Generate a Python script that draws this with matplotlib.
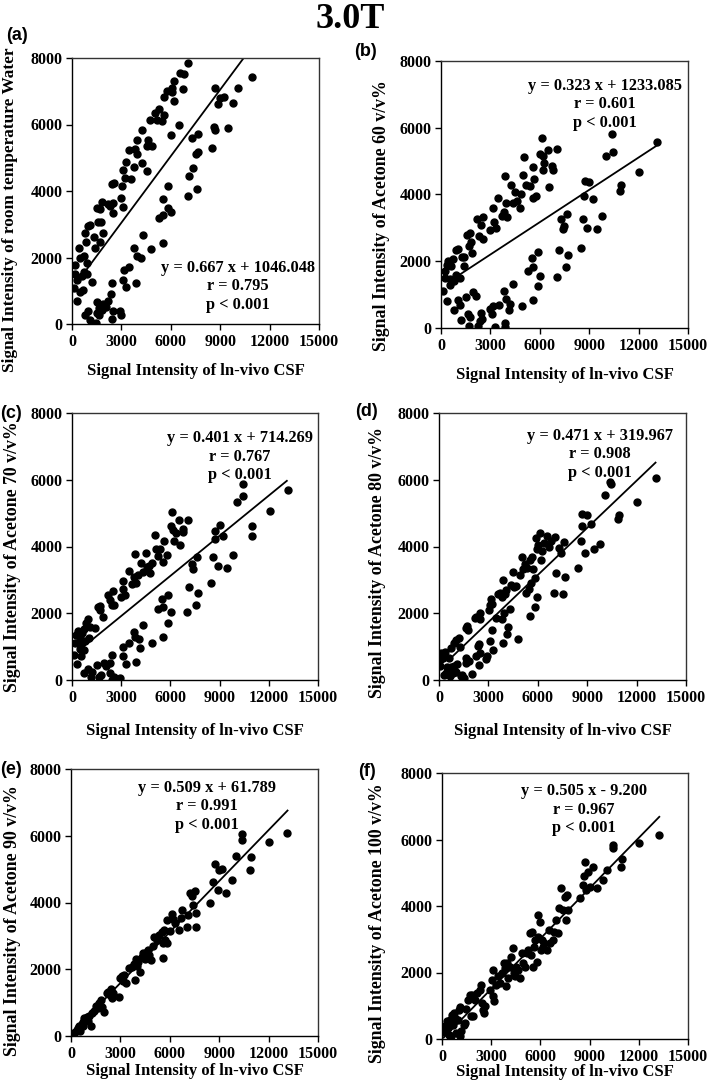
import matplotlib
matplotlib.use("Agg")
import matplotlib.pyplot as plt
import numpy as np

# ---------------- data ----------------
a_x = [121,180,200,320,320,400,500,650,590,730,490,730,770,850,930,930,950,1090,1210,1320,1400,1500,1700,1600,1760,1700,1860,1840,2170,2310,2470,2510,2430,2570,2950,3120,3060,3120,3220,3280,3580,3480,3790,3830,3930,3970,4270,4270,4530,4600,4530,4880,4740,5040,5180,5300,5450,5610,5590,5750,6010,6050,6190,6190,6090,6520,6560,6720,6820,7060,
       1480,790,970,1090,1500,1640,1640,1800,1500,1900,2070,2210,2370,2430,2470,2410,2910,2950,3080,3160,3280,3480,3890,3790,3930,4170,4310,4820,5260,5510,5550,5550,5810,5850,5990,7020,7120,7270,7370,7510,7570,7630,7670,8490,8620,8680,8680,8890,8990,9250,9450,9760,10060,10910]
a_y = [1080,1510,1780,680,1330,2280,960,1030,1430,1550,1980,2050,2750,2470,1500,1830,2960,2980,1250,2610,2280,3480,3450,3070,3080,2480,2750,3660,3610,3550,3650,3330,4200,4250,3800,3510,4160,4630,4380,4860,4350,5240,4710,5260,5110,5520,5830,4850,4610,5530,5360,5350,6150,6350,6130,6460,6100,6290,6830,7010,5680,7110,7300,6700,6980,5980,7550,7060,7510,7860,
       30,280,380,130,650,480,280,430,330,610,520,680,900,1230,400,160,380,280,1310,1630,1100,1700,1230,2280,2050,1980,2680,2260,3180,3760,2450,3280,4160,3480,3360,3850,4450,5600,4700,5100,4050,5700,5180,5300,5930,5830,7100,6630,6800,6830,5880,6660,7100,7430]

b_x = [120,220,260,360,420,360,525,565,625,730,810,890,1010,930,1170,1270,1410,1370,1570,1680,1740,1840,1880,2180,2280,2440,2540,2580,2990,3150,3190,3310,3490,3700,3800,3900,3960,4000,4260,4360,4520,4600,4770,4850,5010,5070,5170,5410,5570,5650,5610,5770,6020,6120,6180,6220,6280,6520,6580,6720,6820,7070,
       810,1030,1170,1210,1530,1620,1680,1780,1940,2100,2220,2380,2420,2480,2990,3090,3150,3250,3530,3840,3900,3940,3900,4140,4200,4360,4910,5270,5570,5550,5610,5880,5880,6020,7030,7190,7290,7390,7490,7590,7670,7690,8480,8640,8700,8740,8880,9000,9250,9450,9790,10050,10400,10420,10900,10960,12030,13140]
b_y = [1120,1500,1700,1900,2000,820,1300,1470,1850,2070,1400,2330,2370,1600,1500,2130,1870,2120,2800,2470,2850,2570,2250,3270,2750,3100,3320,2670,2950,3590,3180,3000,3910,3370,3480,4560,3740,3320,4290,3740,4060,3810,3610,4000,4570,5110,4290,4240,4810,4460,3910,3960,5220,5690,4740,5150,4950,5340,4210,4860,4720,5360,
       550,830,700,230,920,420,70,320,1080,950,50,220,450,280,570,420,670,20,680,1120,150,880,20,550,720,1320,670,1700,850,2100,1820,2270,1270,1550,1540,2350,3280,2970,3070,1820,3420,2200,2400,3280,3960,4390,3000,4370,3860,2970,3350,5160,5810,5270,4090,4290,4670,5560]

c_x = [100,200,260,345,300,470,510,590,570,630,710,750,810,870,950,1010,1110,1380,1560,1680,1720,1860,2170,2290,2490,2430,2570,2990,3100,3140,3240,3450,3650,3810,3850,3910,4010,4220,4320,4500,4560,4700,4760,4860,5070,5110,5230,5370,5570,5640,5780,6040,6120,6180,6220,6320,6590,6530,6790,6750,7090,
       710,950,1160,1220,1520,1620,1780,1930,2090,2330,2330,2430,2430,2590,2940,3080,3100,3300,3490,3750,3910,3850,4110,4160,4320,4860,5270,5470,5530,5570,5840,5840,6020,6990,7160,7300,7400,7560,7640,7660,8470,8610,8720,8720,8920,9020,9220,9470,9790,10070,10400,10440,10950,10990,12060,13180]
c_y = [750,1120,1350,1480,470,930,1250,1100,720,1400,1520,900,1180,1700,1820,1250,1600,1570,2180,2220,2100,1900,2550,2400,2670,2250,2240,2500,2980,2720,2550,3280,2880,3100,3780,2900,3150,3520,3250,3800,3400,3420,3200,3520,4350,3930,3730,3920,3550,4150,3750,4620,5020,4500,4150,4400,4050,4800,4420,4530,4800,
       220,320,80,250,450,80,150,500,420,520,200,750,0,100,70,720,1000,480,1120,1450,550,1300,1220,970,1650,1120,2130,2420,1300,2200,2550,1700,2050,2050,2780,3480,3320,2250,3700,2620,2900,3700,4470,4230,3420,4630,4300,3350,3750,5320,5870,5520,4320,4600,5070,5700]

d_x = [40,80,140,240,350,300,450,510,610,650,710,750,850,890,910,1010,1050,1090,1220,1260,1320,1420,1500,1620,1620,1700,1760,1660,1800,2030,2170,2230,2270,2370,2430,2470,2430,2470,2510,2880,2940,3040,3080,3080,3140,3240,3240,3280,3490,3590,3730,3850,3850,3890,3930,3890,3990,4050,4140,4160,4340,4400,4500,4540,4700,4800,4910,5030,5110,5210,5270,5370,5470,5510,5550,5570,5650,5720,5820,5820,5920,5960,5980,6020,6120,6180,6280,6380,6530,6670,6810,6970,7070,7130,7300,7400,7540,7600,7640,8450,8610,8660,8700,8860,8960,9260,9420,9770,10070,10380,10420,10890,10930,12040,13160]
d_y = [420,600,800,670,830,150,200,400,650,120,970,380,200,1100,420,1200,250,470,1250,1000,120,150,50,500,1550,1630,1500,670,570,180,1850,1900,720,1020,1080,1820,450,800,2000,620,720,2100,1170,2250,2420,1500,2270,900,1850,2570,2600,2480,1820,1100,2000,3000,2570,2700,1370,1600,2120,2850,3250,2800,2820,1220,3150,3700,3330,3480,2600,3350,2720,3600,1920,2920,3700,3320,3050,2200,4250,3920,2500,4050,4400,3600,3880,4100,4300,4000,4150,2600,4280,3220,3970,3800,2570,4120,3080,3350,4150,4970,4600,3800,4930,4670,3920,4080,5550,5930,5870,4820,4950,5320,6050]

e_x = [100,180,240,340,445,505,545,650,710,750,790,850,950,1010,1110,1190,1250,1415,1515,1620,1720,1820,1860,2020,2160,2260,2370,2430,2470,2570,2930,2970,3070,3170,3240,3340,3540,3680,3840,3880,3940,3980,4080,4190,4290,4390,4490,4590,4690,4750,4830,4990,5060,5200,5360,5500,5560,5600,5660,5700,5800,5840,6010,6150,6210,6310,6570,6670,6770,7020,7120,7220,7320,7420,7520,7580,7620,8430,8630,8740,8900,8980,9200,9440,9790,10050,10390,10410,10920,10900,12030,13140]
e_y = [50,80,130,180,230,300,150,360,430,300,550,480,580,450,600,300,700,750,900,830,980,1080,880,730,1280,1330,1230,1400,1150,1300,1180,1730,1800,1650,1830,1580,2030,2080,2150,1680,2300,2100,2230,1930,2380,2480,2300,2530,2580,2430,2280,2710,2980,2880,3030,3130,2780,2330,3180,2880,3480,2780,3150,3650,3500,3380,3180,3550,3780,3280,3630,4280,4180,3930,4330,3280,3680,3980,4600,5160,4360,4980,5010,4280,4680,5380,5880,6050,5350,4980,5810,6080]

f_x = [60,160,200,300,345,405,445,510,570,610,670,750,810,870,950,1010,1070,1110,1160,1320,1420,1480,1560,1680,1820,1780,1890,2030,2130,2290,2370,2430,2490,2570,2640,2940,3040,3100,3140,3200,3300,3410,3550,3650,3750,3850,3910,3950,4050,4160,4220,4300,4360,4460,4520,4660,4760,4860,4930,5070,5170,5270,5370,5430,5510,5570,5640,5680,5780,5840,5880,5980,6020,6080,6180,6240,6380,6550,6590,6750,6830,6950,7090,7160,7260,7400,7500,7560,7600,7660,8410,8570,8680,8720,8780,8920,9020,9180,9430,9790,10070,10440,10400,10890,10950,12020,13240]
f_y = [200,380,230,530,330,430,130,580,80,730,430,780,630,180,580,880,100,960,230,430,480,900,1180,1330,1330,680,680,1180,1380,1480,1630,1080,880,780,980,1480,1780,2080,1280,1130,1630,1880,1680,1980,2280,2130,1580,2280,1830,2180,2480,2730,1980,1880,2180,2080,1830,2580,2280,2180,2580,2680,3180,2530,3230,2180,2780,2980,2330,3730,3080,3510,2680,2980,2780,2900,2680,3280,2900,2980,3230,3580,3180,3930,4530,3880,4280,3580,4330,3880,4230,4630,4900,5330,4480,5030,4570,5180,4530,4780,5080,5830,5730,5180,5400,5880,6130]

panels = ["(a)", "(b)", "(c)", "(d)", "(e)", "(f)"]
ylabels = ["Signal Intensity of room temperature Water",
           "Signal Intensity of Acetone 60 v/v%",
           "Signal Intensity of Acetone 70 v/v%",
           "Signal Intensity of Acetone 80 v/v%",
           "Signal Intensity of Acetone 90 v/v%",
           "Signal Intensity of Acetone 100 v/v%"]
xlabel = "Signal Intensity of ln-vivo CSF"
slopes = [0.667, 0.323, 0.401, 0.471, 0.509, 0.505]
intercepts = [1046.048, 1233.085, 714.269, 319.967, 61.789, -9.200]
r_values = ["0.795", "0.601", "0.767", "0.908", "0.991", "0.967"]
eq_texts = ["y = 0.667 x + 1046.048", "y = 0.323 x + 1233.085", "y = 0.401 x + 714.269",
            "y = 0.471 x + 319.967", "y = 0.509 x + 61.789", "y = 0.505 x - 9.200"]
line_x_start = [900, 1000, 1000, 600, 100, 100]
line_x_end = [13100, 13100, 13100, 13150, 13150, 13250]
xticks = [0, 3000, 6000, 9000, 12000, 15000]
yticks = [0, 2000, 4000, 6000, 8000]
title = "3.0T"

xs = [a_x, b_x, c_x, d_x, e_x, f_x]
ys = [a_y, b_y, c_y, d_y, e_y, f_y]

# ---------------- layout (pixels) ----------------
W, H = 709, 1091
axes_px = [(72, 58, 319, 324), (441, 61, 688, 328),
           (72, 413, 318, 680), (439, 413, 686, 680),
           (71, 769, 318, 1036), (442, 773, 688, 1039)]
ylab_x = [10, 381, 13, 378, 13, 378]
ylab_y = [210, 216, 557, 563, 921, 923]
xlab_y = [371, 375, 731, 731, 1071, 1072]
plab = [(6, 36), (354, 51), (0, 414), (355, 412), (0, 770), (358, 772)]
txt_pos = [(238, 267), (605, 85), (240, 437), (600, 435), (207, 787), (584, 790)]

serif = "Liberation Serif"
fig = plt.figure(figsize=(W / 100, H / 100), dpi=100)
fig.text(350 / W, 1 - 28 / H, title, ha="center", va="baseline",
         fontfamily=serif, fontweight="bold", fontsize=26)

for i in range(6):
    l, t, r, b = axes_px[i]
    ax = fig.add_axes([l / W, 1 - b / H, (r - l) / W, (b - t) / H])
    ax.plot(xs[i], ys[i], "o", color="black", markersize=5, linestyle="none", clip_on=True)
    lx = np.array([line_x_start[i], line_x_end[i]])
    ax.plot(lx, slopes[i] * lx + intercepts[i], color="black", linewidth=1.3)
    ax.set_xlim(0, 15000)
    ax.set_ylim(0, 8000)
    ax.set_xticks(xticks)
    ax.set_yticks(yticks)
    ax.set_xticklabels([str(v) for v in xticks])
    ax.set_yticklabels([str(v) for v in yticks])
    for lab in ax.get_xticklabels() + ax.get_yticklabels():
        lab.set_fontfamily(serif)
        lab.set_fontweight("bold")
        lab.set_fontsize(11.5)
    ax.tick_params(direction="out", length=4, width=1, top=False, right=False, pad=3, color="black")
    for s in ax.spines.values():
        s.set_linewidth(1.0)
        s.set_color("#333333")
    ax.spines["left"].set_color("black")
    ax.spines["bottom"].set_color("black")
    cx = (l + r) / 2
    fig.text(cx / W, 1 - xlab_y[i] / H, xlabel, ha="center", va="center",
             fontfamily=serif, fontweight="bold", fontsize=12)
    ysize = 12.4 if i == 0 else 12.8
    fig.text(ylab_x[i] / W, 1 - ylab_y[i] / H, ylabels[i], ha="center", va="center", rotation=90,
             fontfamily=serif, fontweight="bold", fontsize=ysize)
    fig.text(plab[i][0] / W, 1 - plab[i][1] / H, panels[i], ha="left", va="center",
             fontfamily="Liberation Sans", fontweight="bold", fontsize=13)
    tx, ty = txt_pos[i]
    block = eq_texts[i] + "\nr = " + r_values[i] + "\np < 0.001"
    fig.text(tx / W, 1 - (ty + 19.5) / H, block, ha="center", va="center",
             multialignment="center", linespacing=1.2,
             fontfamily=serif, fontweight="bold", fontsize=11.8)

fig.savefig("out.png", dpi=100)
